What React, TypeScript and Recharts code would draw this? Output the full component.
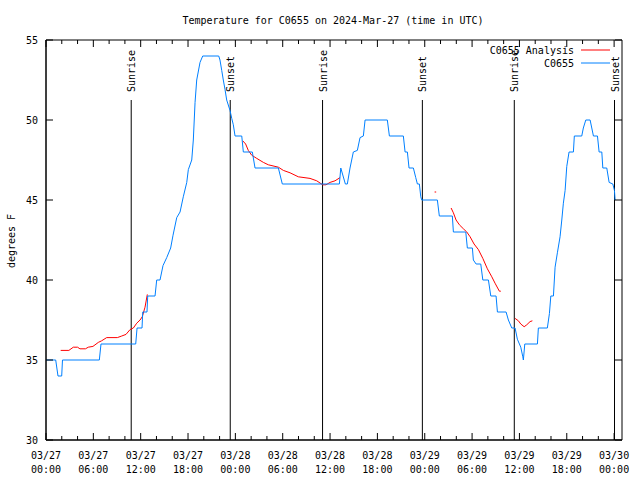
import React from 'react';
import { LineChart, Line, XAxis, YAxis, ReferenceLine, ReferenceArea } from 'recharts';

// hours since 03/27 00:00 UTC
const obsHours = [
  0, 1.23, 1.52, 1.99, 2.09, 6.76, 6.97, 11.37, 11.54, 12.17, 12.26, 12.8, 12.89, 13.82,
  14.03, 14.45, 14.83, 15.3, 15.8, 16.1, 16.57, 16.99, 17.4, 17.84, 18.04, 18.47, 18.67,
  18.89, 19.1, 19.52, 19.86, 21.89, 22.05, 22.27, 22.47, 22.69, 22.9, 23.32, 23.54, 23.74,
  23.96, 24.81, 25.01, 26.15, 26.49, 29.45, 29.95, 37.18, 37.36, 37.94, 38.19, 38.53, 38.95,
  39.46, 39.8, 40.22, 40.44, 43.26, 43.52, 45.29, 45.51, 45.8, 46.01, 46.56, 46.86, 47.07,
  47.32, 47.5, 47.62, 49.6, 49.85, 51.5, 51.63, 53.2, 53.4, 54.04, 54.16, 54.51, 55.1, 55.36,
  56.07, 56.37, 57.04, 57.21, 58.31, 58.6, 59.03, 59.45, 59.74, 60.17, 60.43, 60.5, 60.68,
  62.28, 62.4, 63.54, 63.8, 63.98, 64.31, 64.52, 64.81, 65.15, 65.37, 65.57, 65.79, 66.0,
  66.29, 66.84, 66.96, 67.9, 68.1, 68.41, 68.96, 69.38, 69.89, 70.1, 70.44, 70.57, 71.07,
  71.37, 71.84, 72.04, 72.13,
];
const obsTemps = [
  35, 35, 34, 34, 35, 35, 36, 36, 37, 37, 38, 38, 39, 39,
  40, 40, 40.9, 41.4, 42, 42.8, 43.9, 44.25, 45.2, 46.1, 46.9, 47.5, 48.75,
  51.1, 52.5, 53.6, 54, 54, 53.75, 53.1, 52.5, 51.9, 51.25, 50.6, 50.1, 49.7,
  49, 49, 48, 48, 47, 47, 46, 46, 47, 46, 46, 47, 48,
  48.1, 48.9, 49, 50, 50, 49, 49, 48, 48, 47, 47, 46.4, 46,
  46, 45.2, 45, 45, 44, 44, 43, 43, 42, 42, 41.25, 41, 41, 40,
  40, 39, 39, 38, 38, 37.5, 37, 37, 36.3, 35.8, 35.2, 35, 36,
  36, 37, 37, 37.9, 39, 39, 40.8, 41.7, 42.7, 43.75, 44.8, 45.6, 47.1,
  48, 48, 49, 49, 49.5, 50, 50, 49, 49, 48, 48, 47, 47,
  46.1, 46, 45.6, 45,
];

// analysis series, null marks a gap
const anaHours = [
  1.86, 2.9, 3.46, 4.0, 4.3, 5.0, 5.36, 5.95, 6.63, 7.05, 7.69, 9.04, 9.6, 10.14, 10.65,
  11.07, 11.5, 11.92, 12.2, 12.55, 12.84, 13,
  24.93, 25.3, 25.64, 26.07, 26.71, 27.55, 28.18, 29.45, 30.08, 30.93, 31.98, 33.46, 34.31,
  35.07, 35.49, 36.0, 36.63, 37.27, 38,
  49.25, 49.45, 50,
  51.34, 51.63, 51.97, 52.39, 52.9, 53.33, 53.75, 54.25, 54.8, 55.36, 55.94, 56.5, 56.91,
  57.46, 57.64, 58,
  59.45, 59.87, 60.17, 60.6, 60.93, 61.35, 61.64,
];
const anaTemps = [
  35.6, 35.6, 35.8, 35.8, 35.7, 35.7, 35.8, 35.85, 36.1, 36.2, 36.4, 36.4, 36.5, 36.6, 36.9,
  37.0, 37.3, 37.5, 37.7, 38.3, 39.1, null,
  48.7, 48.5, 48.1, 47.8, 47.6, 47.35, 47.2, 47.05, 46.85, 46.7, 46.45, 46.35, 46.2,
  45.95, 45.95, 46.1, 46.2, 46.4, null,
  45.5, 45.5, null,
  44.5, 44.2, 43.75, 43.45, 43.2, 43.0, 42.7, 42.25, 41.9, 41.35, 40.7, 40.2, 39.8,
  39.3, 39.3, null,
  37.6, 37.45, 37.25, 37.08, 37.2, 37.4, 37.45,
];

const sunLabels = ['Sunrise', 'Sunset', 'Sunrise', 'Sunset', 'Sunrise', 'Sunset'];
const sunHours = [10.8, 23.35, 35.05, 47.7, 59.35, 72.05];

const xTicks = Array.from({ length: 37 }, (_, i) => i * 2);
const tickDates = ['03/27', '03/27', '03/27', '03/27', '03/28', '03/28', '03/28', '03/28', '03/29', '03/29', '03/29', '03/29', '03/30'];
const tickTimes = ['00:00', '06:00', '12:00', '18:00', '00:00', '06:00', '12:00', '18:00', '00:00', '06:00', '12:00', '18:00', '00:00'];
const yTicks = [30, 35, 40, 45, 50, 55];

const obsData = obsHours.map((h, i) => ({ h, t: obsTemps[i] }));
const anaData = anaHours.map((h, i) => ({ h, t: anaTemps[i] }));

const FONT = "'DejaVu Sans Mono', monospace";
const BLUE = '#0080ff';
const RED = '#ff0000';

// plot frame (margins + axis sizes below)
const TOP = 40;
const BOTTOM = 440;
const LEFT = 46;
const RIGHT = 622;

const BottomTick = (props: any) => {
  const { x, payload } = props;
  const v = payload.value;
  const major = v % 6 === 0;
  const len = major ? 7 : 4;
  return (
    <g>
      <line x1={x} y1={BOTTOM} x2={x} y2={BOTTOM - len} stroke="#000" />
      <line x1={x} y1={TOP} x2={x} y2={TOP + len} stroke="#000" />
      {major && (
        <text x={x} y={BOTTOM} textAnchor="middle" fontSize={10} fontFamily={FONT} fill="#000">
          <tspan x={x} dy={19}>{tickDates[v / 6]}</tspan>
          <tspan x={x} dy={14}>{tickTimes[v / 6]}</tspan>
        </text>
      )}
    </g>
  );
};

const LeftTick = (props: any) => {
  const { y, payload } = props;
  return (
    <g>
      <line x1={LEFT} y1={y} x2={LEFT + 7} y2={y} stroke="#000" />
      <line x1={RIGHT} y1={y} x2={RIGHT - 7} y2={y} stroke="#000" />
      <text x={LEFT - 8} y={y} dy={4} textAnchor="end" fontSize={10} fontFamily={FONT} fill="#000">
        {payload.value}
      </text>
    </g>
  );
};

const sunShape = (label: string) => (props: any) => {
  const { x1, y1, x2, y2 } = props;
  return (
    <g>
      <line x1={x1} y1={y1} x2={x2} y2={y2} stroke="#000" strokeWidth={1} />
      <text
        x={x1 + 4}
        y={y1 - 8}
        transform={`rotate(-90 ${x1 + 4} ${y1 - 8})`}
        textAnchor="start"
        fontSize={10}
        fontFamily={FONT}
        fill="#000"
      >
        {label}
      </text>
    </g>
  );
};

export default function App() {
  return (
    <div style={{ position: 'absolute', left: 0, top: 0, width: 640, height: 480, background: '#fff' }}>
      <LineChart width={640} height={480} margin={{ top: 40, right: 18, bottom: 0, left: 0 }}>
        <XAxis
          dataKey="h"
          type="number"
          domain={[0, 73]}
          ticks={xTicks}
          interval={0}
          height={40}
          tickLine={false}
          axisLine={{ stroke: '#000' }}
          tick={BottomTick}
          allowDataOverflow
        />
        <YAxis
          type="number"
          domain={[30, 55]}
          ticks={yTicks}
          interval={0}
          width={46}
          tickLine={false}
          axisLine={{ stroke: '#000' }}
          tick={LeftTick}
        />
        <ReferenceArea x1={0} x2={73} y1={30} y2={55} fill="none" stroke="#000" strokeWidth={1} />
        {sunHours.map((h, i) => (
          <ReferenceLine
            key={i}
            segment={[{ x: h, y: 51.25 }, { x: h, y: 30 }]}
            shape={sunShape(sunLabels[i])}
          />
        ))}
        <Line
          data={anaData}
          dataKey="t"
          type="linear"
          stroke={RED}
          strokeWidth={1}
          dot={false}
          activeDot={false}
          connectNulls={false}
          isAnimationActive={false}
        />
        <Line
          data={obsData}
          dataKey="t"
          type="linear"
          stroke={BLUE}
          strokeWidth={1}
          dot={false}
          activeDot={false}
          isAnimationActive={false}
        />
      </LineChart>
      <svg
        width={640}
        height={480}
        style={{ position: 'absolute', left: 0, top: 0, pointerEvents: 'none' }}
      >
        <text x={333} y={24} textAnchor="middle" fontSize={10} fontFamily={FONT} fill="#000">
          Temperature for C0655 on 2024-Mar-27 (time in UTC)
        </text>
        <text
          x={15}
          y={241}
          transform="rotate(-90 15 241)"
          textAnchor="middle"
          fontSize={10}
          fontFamily={FONT}
          fill="#000"
        >
          degrees F
        </text>
        <text x={574} y={54} textAnchor="end" fontSize={10} fontFamily={FONT} fill="#000">
          C0655 Analysis
        </text>
        <line x1={581} y1={50} x2={610} y2={50} stroke={RED} />
        <text x={574} y={67} textAnchor="end" fontSize={10} fontFamily={FONT} fill="#000">
          C0655
        </text>
        <line x1={581} y1={63} x2={610} y2={63} stroke={BLUE} />
      </svg>
    </div>
  );
}
